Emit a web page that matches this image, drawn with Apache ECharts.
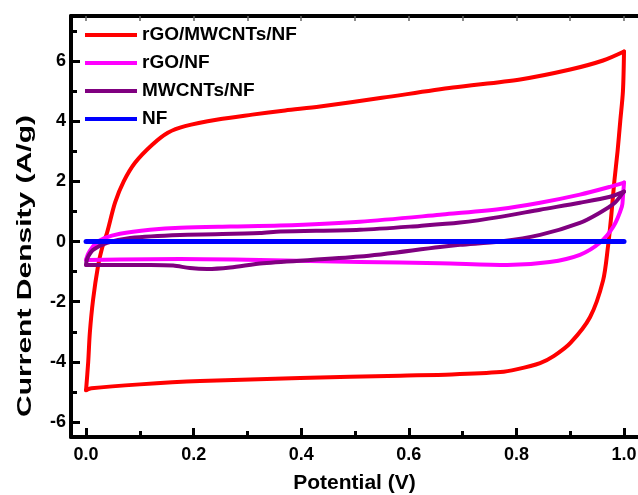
<!DOCTYPE html>
<html>
<head>
<meta charset="utf-8">
<script src="https://cdn.jsdelivr.net/npm/echarts@6/dist/echarts.min.js"></script>
<style>
  html, body { margin: 0; padding: 0; background: #fff; }
  #main { width: 638px; height: 495px; }
</style>
</head>
<body>
<div id="main"></div>
<script>
    var seriesNames = ['rGO/MWCNTs/NF', 'rGO/NF', 'MWCNTs/NF', 'NF'];
    var seriesColors = ['#ff0000', '#ff00ff', '#800080', '#0000ff'];

    // [potential (V), current density (A/g)] -- anodic sweep (0 -> 1 V)
    var rgoMwcntsNfAnodic = [
        [0, -4.94], [0.004, -4.0], [0.007, -3.04], [0.013, -1.94], [0.022, -0.84], [0.03, -0.2],
        [0.039, 0.29], [0.054, 1.3], [0.07, 2.0], [0.091, 2.62], [0.123, 3.22], [0.152, 3.62],
        [0.184, 3.84], [0.245, 4.06], [0.309, 4.22], [0.37, 4.36], [0.435, 4.49], [0.55, 4.78],
        [0.682, 5.12], [0.807, 5.39], [0.9, 5.72], [0.961, 6.02], [1.0, 6.32]
    ];
    // cathodic sweep (1 -> 0 V)
    var rgoMwcntsNfCathodic = [
        [1.0, 6.32], [0.998, 5.0], [0.993, 4.0], [0.988, 3.0], [0.982, 2.0], [0.976, 0.8], [0.97, -0.2],
        [0.961, -1.3], [0.937, -2.51], [0.9, -3.38], [0.87, -3.8], [0.844, -4.04], [0.8, -4.25],
        [0.77, -4.34], [0.68, -4.42], [0.584, -4.46], [0.398, -4.54], [0.212, -4.64], [0.1, -4.75],
        [0.01, -4.88], [0, -4.94]
    ];
    var rgoNfAnodic = [
        [0, -0.61], [0.003, -0.45], [0.006, -0.34], [0.017, -0.08], [0.035, 0.12], [0.063, 0.26],
        [0.119, 0.39], [0.175, 0.46], [0.268, 0.5], [0.36, 0.53], [0.509, 0.66], [0.658, 0.89],
        [0.77, 1.08], [0.844, 1.29], [0.918, 1.56], [0.974, 1.82], [1.0, 1.96]
    ];
    var rgoNfCathodic = [
        [1.0, 1.96], [0.998, 1.49], [0.996, 1.16], [0.98, 0.49], [0.955, -0.04], [0.918, -0.44],
        [0.862, -0.68], [0.783, -0.78], [0.658, -0.72], [0.509, -0.68], [0.323, -0.61], [0.175, -0.58],
        [0.063, -0.6], [0, -0.61]
    ];
    var mwcntsNfAnodic = [
        [0, -0.78], [0.001, -0.65], [0.004, -0.5], [0.013, -0.28], [0.039, -0.04], [0.082, 0.12],
        [0.175, 0.22], [0.323, 0.28], [0.361, 0.33], [0.509, 0.39], [0.62, 0.52], [0.695, 0.63],
        [0.77, 0.82], [0.844, 1.06], [0.918, 1.29], [0.974, 1.49], [1.0, 1.66]
    ];
    var mwcntsNfCathodic = [
        [1.0, 1.66], [0.998, 1.62], [0.983, 1.29], [0.955, 0.96], [0.918, 0.62], [0.844, 0.22], [0.77, 0.0],
        [0.695, -0.11], [0.658, -0.18], [0.509, -0.5], [0.329, -0.72], [0.268, -0.86],
        [0.225, -0.91], [0.193, -0.88], [0.162, -0.8], [0.12, -0.78], [0.063, -0.78], [0, -0.78]
    ];
    var nf = [[0, 0], [0.5, 0], [1.0, 0]];

    var xMajorTicks = [0, 0.2, 0.4, 0.6, 0.8, 1.0];
    var xMinorTicks = [0.1, 0.3, 0.5, 0.7, 0.9];
    var xTopTicks = [0, 0.1, 0.2, 0.3, 0.4, 0.5, 0.6, 0.7, 0.8, 0.9, 1.0];
    var yMajorTicks = [-6, -4, -2, 0, 2, 4, 6];
    var yMinorTicks = [-5, -3, -1, 1, 3, 5, 7];

    var font = "'Liberation Sans', Arial, sans-serif";
    var xMin = -0.028, xMax = 1.026;
    var yMin = -6.5, yMax = 7.5;

    var myChart = echarts.init(document.getElementById('main'));

    function curve(name, idx, data) {
        return {
            name: name,
            type: 'line',
            xAxisIndex: 0,
            yAxisIndex: 0,
            data: data,
            symbol: 'none',
            smooth: 0.3,
            color: seriesColors[idx],
            lineStyle: { color: seriesColors[idx], width: idx === 3 ? 5 : 4, cap: 'round', join: 'round' }
        };
    }

    var option = {
        animation: false,
        backgroundColor: '#ffffff',
        grid: { left: 71, right: 0, top: 16, bottom: 58, containLabel: false, outerBoundsMode: 'none' },
        legend: {
            orient: 'vertical',
            left: 85,
            top: 25,
            padding: 0,
            icon: 'rect',
            itemWidth: 52,
            itemHeight: 4,
            itemGap: 8,
            data: seriesNames,
            textStyle: {
                fontFamily: font,
                fontWeight: 'bold',
                fontSize: 19,
                lineHeight: 20,
                color: '#000'
            }
        },
        xAxis: [
            {
                type: 'value', position: 'bottom', min: xMin, max: xMax,
                name: 'Potential (V)', nameLocation: 'middle', nameGap: 36,
                nameTextStyle: { fontFamily: font, fontWeight: 'bold', fontSize: 21, color: '#000' },
                axisLine: { onZero: false, lineStyle: { color: '#000', width: 4 } },
                axisTick: { inside: true, length: 9, customValues: xMajorTicks, lineStyle: { color: '#000', width: 3 } },
                axisLabel: {
                    customValues: xMajorTicks, margin: 9,
                    fontFamily: font, fontWeight: 'bold', fontSize: 18, color: '#000',
                    formatter: function (v) { return v.toFixed(1); }
                },
                splitLine: { show: false }
            },
            {
                type: 'value', position: 'bottom', min: xMin, max: xMax,
                axisLine: { show: false, onZero: false },
                axisTick: { inside: true, length: 6, customValues: xMinorTicks, lineStyle: { color: '#000', width: 3 } },
                axisLabel: { show: false },
                splitLine: { show: false }
            },
            {
                type: 'value', position: 'top', min: xMin, max: xMax,
                axisLine: { onZero: false, lineStyle: { color: '#000', width: 4 } },
                axisTick: { inside: true, length: 5, customValues: xTopTicks, lineStyle: { color: '#666', width: 1.5 } },
                axisLabel: { show: false },
                splitLine: { show: false }
            }
        ],
        yAxis: [
            {
                type: 'value', position: 'left', min: yMin, max: yMax,
                axisLine: { show: true, onZero: false, lineStyle: { color: '#000', width: 4 } },
                axisTick: { show: true, inside: true, length: 9, customValues: yMajorTicks, lineStyle: { color: '#000', width: 3 } },
                axisLabel: {
                    customValues: yMajorTicks, margin: 5,
                    fontFamily: font, fontWeight: 'bold', fontSize: 18, color: '#000'
                },
                splitLine: { show: false }
            },
            {
                type: 'value', position: 'left', min: yMin, max: yMax,
                axisLine: { show: false, onZero: false },
                axisTick: { show: true, inside: true, length: 6, customValues: yMinorTicks, lineStyle: { color: '#000', width: 3 } },
                axisLabel: { show: false },
                splitLine: { show: false }
            }
        ],
        graphic: [
            {
                type: 'text',
                x: 25,
                y: 266,
                rotation: Math.PI / 2,
                scaleX: 1.43,
                style: {
                    text: 'Current Density (A/g)',
                    font: "bold 21px 'Liberation Sans', Arial, sans-serif",
                    fill: '#000',
                    align: 'center',
                    verticalAlign: 'middle',
                    textAlign: 'center',
                    textVerticalAlign: 'middle'
                }
            }
        ],
        series: [
            curve(seriesNames[0], 0, rgoMwcntsNfAnodic),
            curve(seriesNames[0], 0, rgoMwcntsNfCathodic),
            curve(seriesNames[1], 1, rgoNfAnodic),
            curve(seriesNames[1], 1, rgoNfCathodic),
            curve(seriesNames[2], 2, mwcntsNfAnodic),
            curve(seriesNames[2], 2, mwcntsNfCathodic),
            curve(seriesNames[3], 3, nf)
        ]
    };
    myChart.setOption(option);
</script>
</body>
</html>
